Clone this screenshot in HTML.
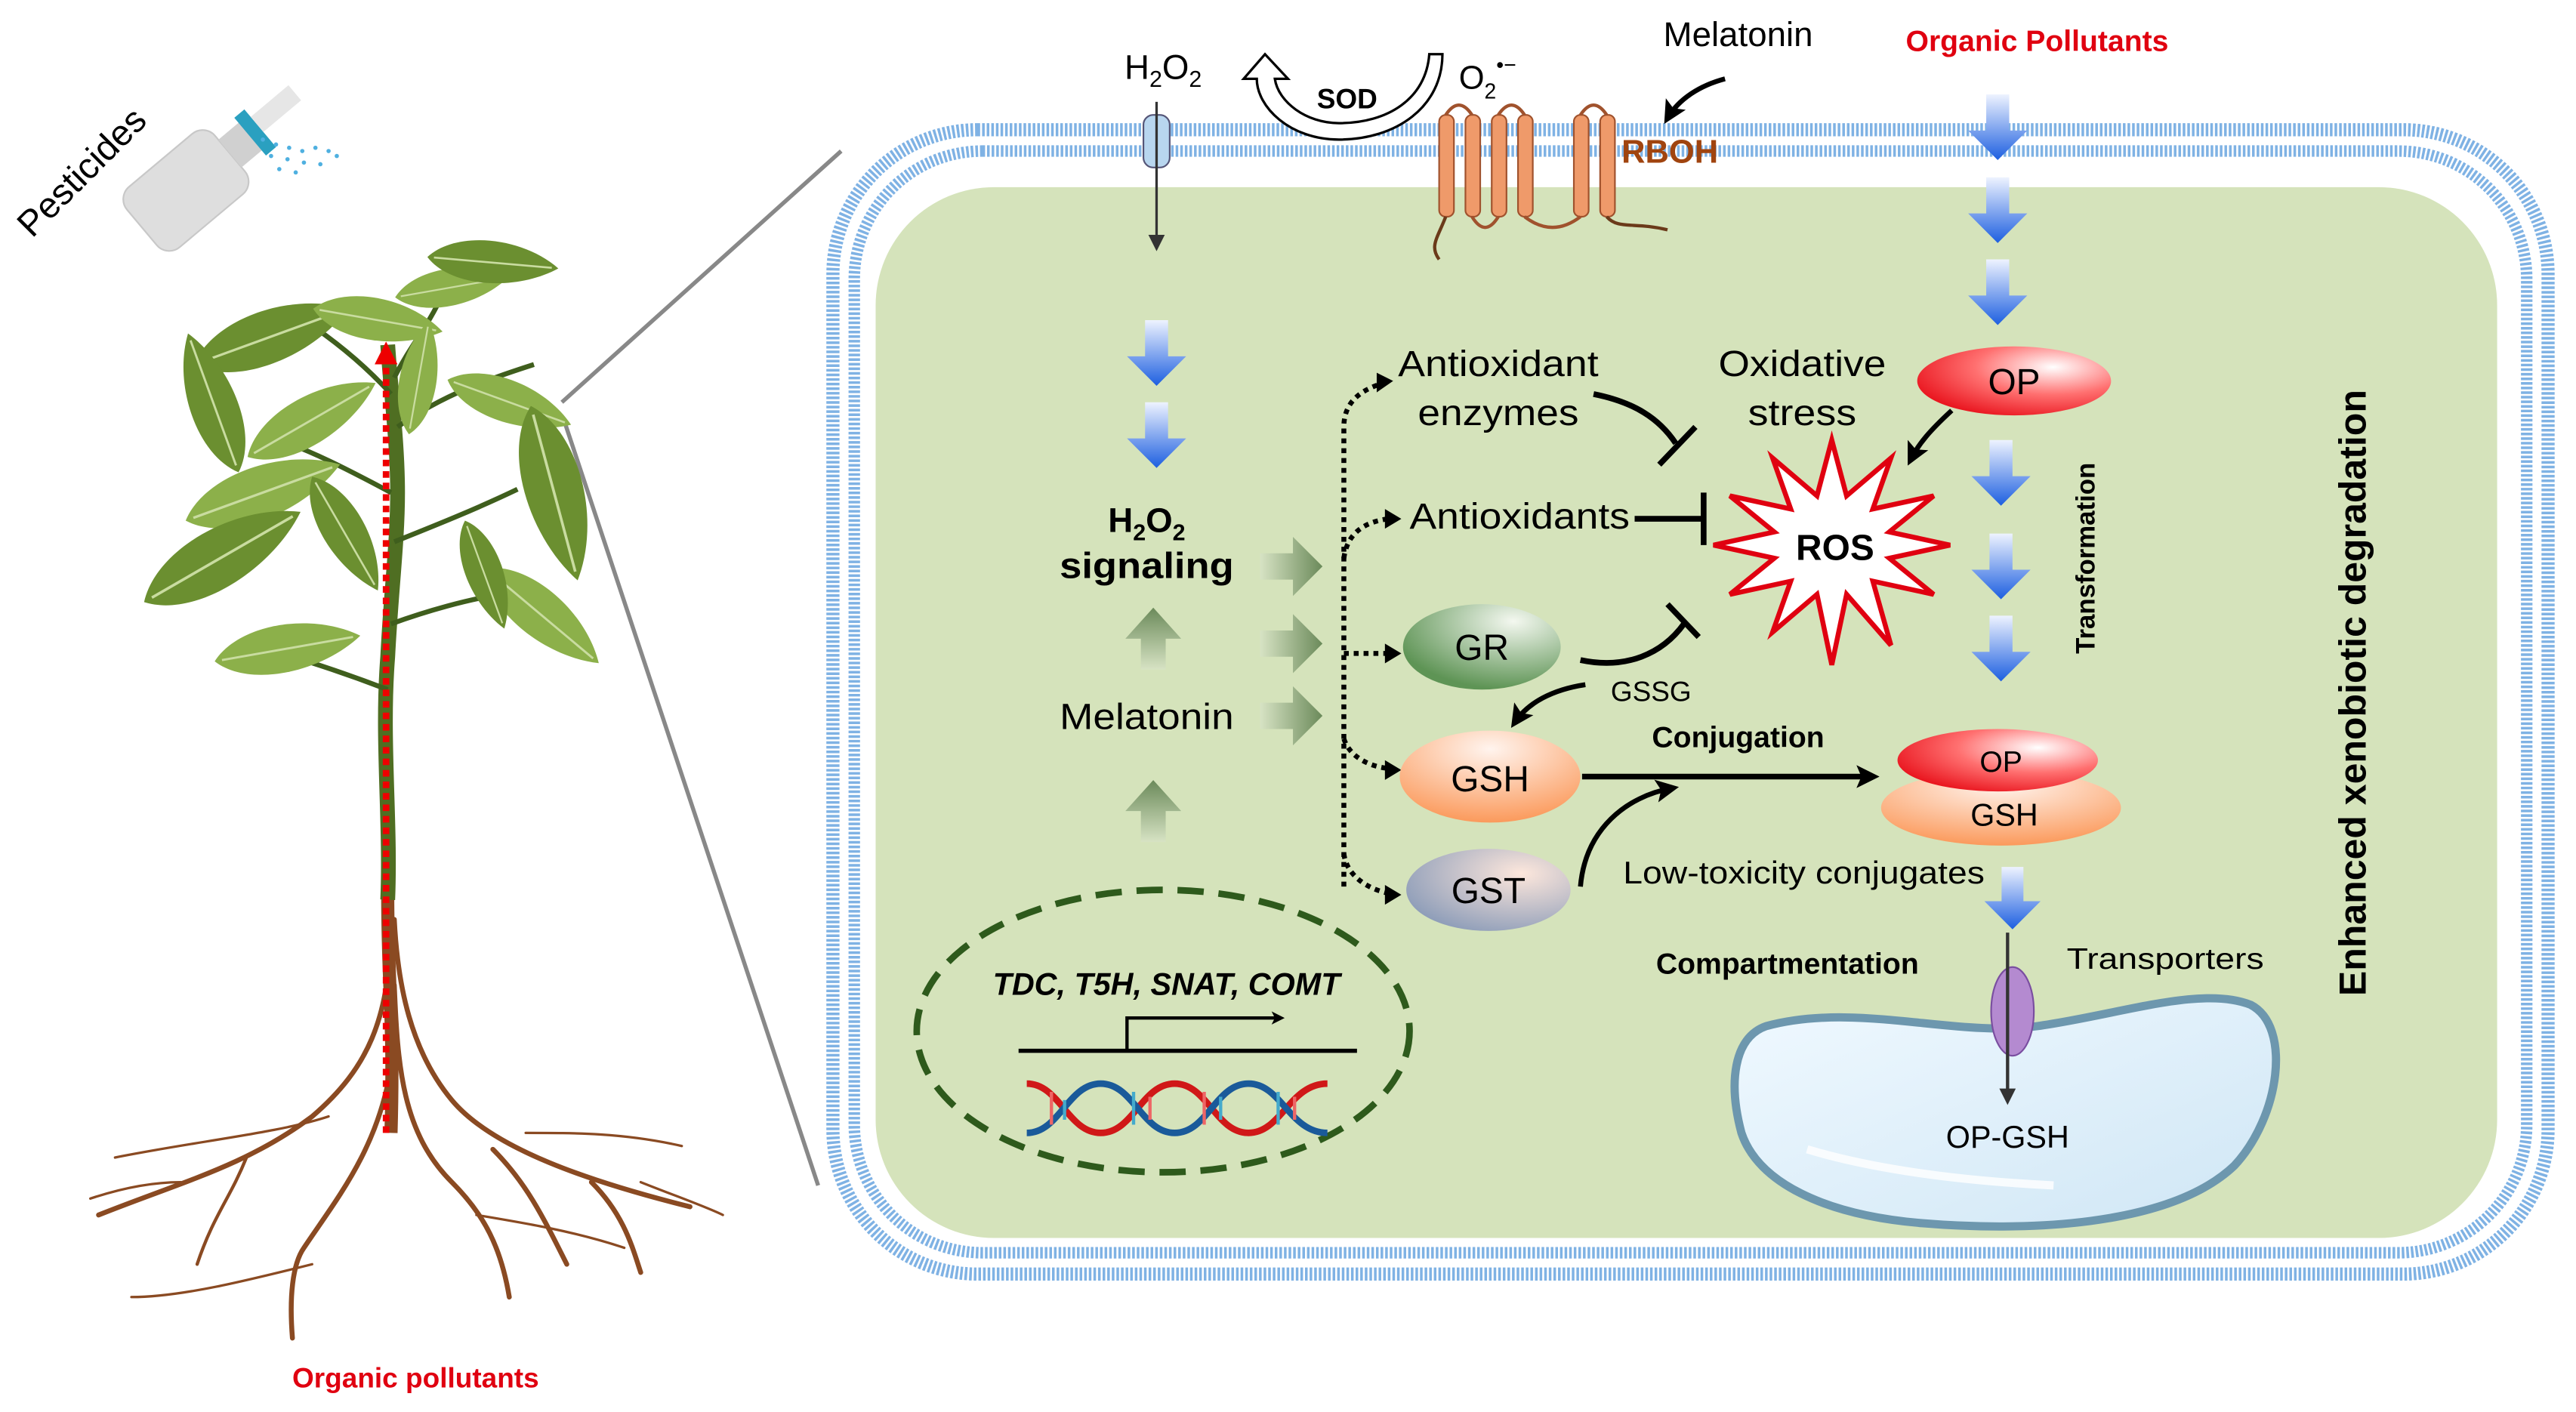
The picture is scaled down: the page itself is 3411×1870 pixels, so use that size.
<!DOCTYPE html>
<html><head><meta charset="utf-8"><style>
html,body{margin:0;padding:0;background:#fff;}
svg{display:block;}
text{font-family:"Liberation Sans",sans-serif;}
</style></head><body>
<svg width="3411" height="1870" viewBox="0 0 1568 860" preserveAspectRatio="none" xmlns="http://www.w3.org/2000/svg">
<defs>
<linearGradient id="bl" x1="0" y1="0" x2="0" y2="1"><stop offset="0" stop-color="#eef3ff"/><stop offset="1" stop-color="#1d5fe0"/></linearGradient>
<linearGradient id="gr" x1="0" y1="0" x2="1" y2="0"><stop offset="0" stop-color="#d7e3c4"/><stop offset="1" stop-color="#6b8a5a"/></linearGradient>
<linearGradient id="gu" x1="0" y1="1" x2="0" y2="0"><stop offset="0" stop-color="#d7e3c4"/><stop offset="1" stop-color="#6b8a5a"/></linearGradient>
<radialGradient id="rOP" cx="0.7" cy="0.3" r="0.8"><stop offset="0" stop-color="#fff"/><stop offset="0.5" stop-color="#ff7070"/><stop offset="1" stop-color="#e8101a"/></radialGradient>
<radialGradient id="rGSH" cx="0.5" cy="0.2" r="0.8"><stop offset="0" stop-color="#fff4ee"/><stop offset="1" stop-color="#fb9a5c"/></radialGradient>
<radialGradient id="rGR" cx="0.7" cy="0.2" r="0.8"><stop offset="0" stop-color="#f4f8f0"/><stop offset="1" stop-color="#5e9455"/></radialGradient>
<radialGradient id="rGST" cx="0.7" cy="0.3" r="0.8"><stop offset="0" stop-color="#fde7dc"/><stop offset="1" stop-color="#8c9cb8"/></radialGradient>
<linearGradient id="vac" x1="0" y1="0" x2="1" y2="1"><stop offset="0" stop-color="#f0f9ff"/><stop offset="1" stop-color="#cfe6f5"/></linearGradient>
<symbol id="ba" viewBox="0 0 36 40" overflow="visible"><path d="M11 0 H25 V22 H36 L18 40 L0 22 H11 Z" fill="url(#bl)"/></symbol>
<symbol id="ga" viewBox="0 0 38 36" overflow="visible"><path d="M0 10 H20 V0 L38 18 L20 36 V26 H0 Z" fill="url(#gr)"/></symbol>
<symbol id="gua" viewBox="0 0 36 40" overflow="visible"><path d="M10 40 V20 H0 L18 0 L36 20 H26 V40 Z" fill="url(#gu)"/></symbol>
<symbol id="leaf" viewBox="-50 -20 100 40" overflow="visible"><path d="M-50 0 C-30 -22 20 -22 50 0 C20 20 -30 22 -50 0 Z"/><path d="M-45 0 L45 0" stroke="#c9dca0" stroke-width="1.5" fill="none"/></symbol>
<marker id="ah" markerWidth="8" markerHeight="8" refX="6" refY="4" orient="auto" markerUnits="userSpaceOnUse" viewBox="0 0 8 8"><path d="M0 0 L8 4 L0 8 L2 4Z" fill="#000"/></marker>
<marker id="ah2" markerWidth="14" markerHeight="14" refX="10" refY="7" orient="auto" markerUnits="userSpaceOnUse" viewBox="0 0 14 14"><path d="M0 0 L14 7 L0 14 L3 7Z" fill="#000"/></marker>
<marker id="ahs" markerWidth="10" markerHeight="10" refX="7" refY="5" orient="auto" markerUnits="userSpaceOnUse" viewBox="0 0 10 10"><path d="M0 0 L10 5 L0 10 Z" fill="#333"/></marker>
<marker id="ahr" markerWidth="14" markerHeight="14" refX="7" refY="7" orient="auto" markerUnits="userSpaceOnUse" viewBox="0 0 14 14"><path d="M0 0 L14 7 L0 14 Z" fill="#e00"/></marker>
</defs>

<line x1="342" y1="245" x2="512" y2="92" stroke="#888" stroke-width="2.5"/>
<line x1="344" y1="258" x2="498" y2="722" stroke="#888" stroke-width="2.5"/>

<rect x="507" y="79" width="1044" height="697" rx="88" fill="#fff" stroke="#7fb2e4" stroke-width="8" stroke-dasharray="1.6 1.2"/>
<rect x="520" y="92" width="1018" height="671" rx="78" fill="none" stroke="#7fb2e4" stroke-width="7" stroke-dasharray="1.6 1.2"/>
<rect x="533" y="114" width="987" height="640" rx="72" fill="#d5e3bb"/>

<g>
<g stroke="#8a4a22" fill="none" stroke-width="3" stroke-linecap="round">
<path d="M240 560 C242 600 250 640 275 670 C300 700 360 720 420 735"/>
<path d="M238 570 C236 620 225 650 190 680 C150 710 110 720 60 740" />
<path d="M240 600 C242 650 245 690 275 720 C295 740 305 760 310 790"/>
<path d="M238 650 C230 700 205 730 185 760 C178 770 176 790 178 815"/>
<path d="M300 700 C320 720 330 740 345 770"/>
<path d="M360 720 C380 740 385 760 390 775"/>
<path d="M150 705 C140 730 130 740 120 770" stroke-width="2"/>
<path d="M200 680 C170 690 120 695 70 705" stroke-width="1.5"/>
<path d="M320 690 C350 690 380 690 415 698" stroke-width="1.5"/>
<path d="M190 770 C150 780 110 790 80 790" stroke-width="1.5"/>
<path d="M290 740 C320 745 350 750 380 760" stroke-width="1.5"/>
<path d="M110 720 C90 720 70 725 55 730" stroke-width="1.5"/>
<path d="M390 720 C410 728 430 735 440 740" stroke-width="1.5"/>
</g>
<path d="M236 545 C236 600 240 620 238 690" stroke="#8a4a22" stroke-width="8" fill="none"/>
<path d="M236 548 C238 500 232 450 236 400 C238 360 242 330 242 300 C242 270 238 240 236 210" stroke="#4f6e22" stroke-width="9" fill="none"/>
<g stroke="#3f5e1d" stroke-width="3" fill="none">
<path d="M236 420 C210 410 180 400 160 395"/><path d="M238 380 C260 372 285 365 305 362"/>
<path d="M240 330 C265 320 290 310 315 298"/>
<path d="M238 300 C210 285 190 275 170 268"/><path d="M242 260 C270 240 300 230 325 222"/>
<path d="M238 240 C220 220 200 205 185 195"/><path d="M240 230 C250 210 260 200 270 178"/>
</g>
<g fill="#7aa33a">
<use href="#leaf" x="0" y="0" width="100" height="40" transform="translate(165 205) rotate(-20) translate(-50 -20)" fill="#6b8f30"/>
<use href="#leaf" transform="translate(130 240) rotate(-110) translate(-50 -20) scale(0.9)" width="100" height="40" fill="#6b8f30"/>
<use href="#leaf" transform="translate(195 255) rotate(-30) translate(-50 -20) scale(0.9)" width="100" height="40" fill="#8cb04a"/>
<use href="#leaf" transform="translate(230 195) rotate(10) translate(-40 -16) scale(0.8)" width="100" height="40" fill="#8cb04a"/>
<use href="#leaf" transform="translate(275 175) rotate(-10) translate(-35 -14) scale(0.7)" width="100" height="40" fill="#8cb04a"/>
<use href="#leaf" transform="translate(300 160) rotate(5) translate(-40 -16) scale(0.8)" width="100" height="40" fill="#6b8f30"/>
<use href="#leaf" transform="translate(160 300) rotate(-20) translate(-50 -20)" width="100" height="40" fill="#8cb04a"/>
<use href="#leaf" transform="translate(130 340) rotate(-30) translate(-50 -20) scale(1.1)" width="100" height="40" fill="#6b8f30"/>
<use href="#leaf" transform="translate(210 325) rotate(60) translate(-40 -16) scale(0.8)" width="100" height="40" fill="#6b8f30"/>
<use href="#leaf" transform="translate(175 395) rotate(-10) translate(-45 -18) scale(0.9)" width="100" height="40" fill="#8cb04a"/>
<use href="#leaf" transform="translate(310 245) rotate(20) translate(-40 -16) scale(0.8)" width="100" height="40" fill="#8cb04a"/>
<use href="#leaf" transform="translate(338 295) rotate(75) translate(-50 -20) scale(1.1)" width="100" height="40" fill="#6b8f30"/>
<use href="#leaf" transform="translate(330 375) rotate(40) translate(-45 -18) scale(0.9)" width="100" height="40" fill="#8cb04a"/>
<use href="#leaf" transform="translate(295 350) rotate(70) translate(-35 -14) scale(0.7)" width="100" height="40" fill="#6b8f30"/>
<use href="#leaf" transform="translate(255 230) rotate(-80) translate(-35 -14) scale(0.7)" width="100" height="40" fill="#8cb04a"/>
</g>
<line x1="235" y1="690" x2="235" y2="215" stroke="#e00" stroke-width="4" stroke-dasharray="4 3" marker-end="url(#ahr)"/>
<g transform="rotate(-40 110 120)">
<rect x="80" y="95" width="70" height="48" rx="10" fill="#dedede" stroke="#c8c8c8"/>
<rect x="150" y="108" width="18" height="22" fill="#d0d0d0"/>
<rect x="166" y="104" width="8" height="30" fill="#2aa0c0"/>
<rect x="174" y="110" width="30" height="12" fill="#e6e6e6"/>
</g>
<g fill="#4fb0e0"><circle cx="160" cy="85" r="1.3"/><circle cx="168" cy="88" r="1.3"/><circle cx="176" cy="90" r="1.3"/><circle cx="184" cy="92" r="1.3"/><circle cx="192" cy="90" r="1.3"/><circle cx="200" cy="92" r="1.3"/><circle cx="165" cy="95" r="1.3"/><circle cx="175" cy="97" r="1.3"/><circle cx="185" cy="99" r="1.3"/><circle cx="195" cy="100" r="1.3"/><circle cx="170" cy="103" r="1.3"/><circle cx="180" cy="105" r="1.3"/><circle cx="205" cy="95" r="1.3"/></g>
<text x="55" y="110" font-size="22" transform="rotate(-45 55 110)" text-anchor="middle">Pesticides</text>
<text x="253" y="845" font-size="17" font-weight="bold" fill="#e00010" text-anchor="middle">Organic pollutants</text>
</g>

<text x="708" y="48" font-size="21" text-anchor="middle">H<tspan font-size="14" dy="5">2</tspan><tspan dy="-5">O</tspan><tspan font-size="14" dy="5">2</tspan></text>
<rect x="696" y="70" width="16" height="32" rx="6" fill="#b8d6ef" stroke="#557" stroke-width="1"/>
<line x1="704" y1="62" x2="704" y2="150" stroke="#333" stroke-width="1.5" marker-end="url(#ahs)"/>
<path d="M878 33 C878 65 850 85 815 85 C785 85 765 65 765 48 L757 48 L770 33 L784 48 L776 48 C778 62 795 75 815 75 C845 75 868 60 870 33 Z" fill="#fff" stroke="#000" stroke-width="1.5"/>
<text x="820" y="66" font-size="17" font-weight="bold" text-anchor="middle">SOD</text>
<text x="888" y="54" font-size="20">O<tspan font-size="13" dy="6">2</tspan><tspan font-size="13" dy="-16">•−</tspan></text>
<g fill="#ef9a6a" stroke="#a0522d" stroke-width="1">
<rect x="876" y="70" width="9" height="62" rx="4"/><rect x="892" y="70" width="9" height="62" rx="4"/><rect x="908" y="70" width="9" height="62" rx="4"/><rect x="924" y="70" width="9" height="62" rx="4"/><rect x="958" y="70" width="9" height="62" rx="4"/><rect x="974" y="70" width="9" height="62" rx="4"/>
</g>
<path d="M880 70 Q888 58 896 70 M912 70 Q920 58 928 70 M962 70 Q970 58 978 70 M896 132 Q904 145 912 132 M928 132 Q945 145 962 132" stroke="#a0522d" stroke-width="2" fill="none"/>
<path d="M880 132 C875 145 870 150 876 158 M978 132 C985 140 995 135 1015 140" stroke="#6b3a1a" stroke-width="2" fill="none"/>
<text x="987" y="99" font-size="20" font-weight="bold" fill="#a0440f">RBOH</text>
<text x="1058" y="28" font-size="21" text-anchor="middle">Melatonin</text>
<path d="M1050 48 C1035 52 1022 60 1015 72" stroke="#000" stroke-width="3" fill="none" marker-end="url(#ah2)"/>
<text x="1240" y="31" font-size="18" font-weight="bold" fill="#e00010" text-anchor="middle">Organic Pollutants</text>

<use href="#ba" x="1198" y="55" width="36" height="45"/>
<use href="#ba" x="1198" y="108" width="36" height="40"/>
<use href="#ba" x="1198" y="158" width="36" height="40"/>
<use href="#ba" x="1200" y="262" width="36" height="52"/>
<use href="#ba" x="1200" y="325" width="36" height="40"/>
<use href="#ba" x="1200" y="375" width="36" height="40"/>
<use href="#ba" x="1207" y="528" width="36" height="38"/>
<use href="#ba" x="686" y="195" width="36" height="40"/>
<use href="#ba" x="686" y="245" width="36" height="40"/>

<ellipse cx="1226" cy="232" rx="59" ry="21" fill="url(#rOP)"/>
<text x="1226" y="240" font-size="22" text-anchor="middle">OP</text>
<path d="M1188 250 C1175 262 1168 270 1163 280" stroke="#000" stroke-width="3" fill="none" marker-end="url(#ah2)"/>

<text x="912" y="229" font-size="22" text-anchor="middle" textLength="122" lengthAdjust="spacingAndGlyphs">Antioxidant</text>
<text x="912" y="259" font-size="22" text-anchor="middle" textLength="98" lengthAdjust="spacingAndGlyphs">enzymes</text>
<text x="1097" y="229" font-size="22" text-anchor="middle" textLength="102" lengthAdjust="spacingAndGlyphs">Oxidative</text>
<text x="1097" y="259" font-size="22" text-anchor="middle" textLength="66" lengthAdjust="spacingAndGlyphs">stress</text>
<path d="M970 240 C995 245 1010 255 1020 270" stroke="#000" stroke-width="3.5" fill="none"/>
<line x1="1010" y1="283" x2="1032" y2="260" stroke="#000" stroke-width="3.5"/>
<text x="925" y="322" font-size="22" text-anchor="middle" textLength="134" lengthAdjust="spacingAndGlyphs">Antioxidants</text>
<line x1="995" y1="316" x2="1037" y2="316" stroke="#000" stroke-width="3.5"/>
<line x1="1037" y1="300" x2="1037" y2="332" stroke="#000" stroke-width="3.5"/>

<polygon points="1187,332 1150,340 1177,362 1140,354 1151,393 1124,362 1115,405 1106,362 1079,385 1090,354 1053,362 1080,340 1043,332 1080,324 1053,302 1090,310 1079,279 1106,302 1115,268 1124,302 1151,279 1140,310 1177,302 1150,324" fill="#fff" stroke="#e00010" stroke-width="3" stroke-linejoin="miter"/>
<text x="1117" y="341" font-size="22" font-weight="bold" text-anchor="middle">ROS</text>

<text x="1275" y="340" font-size="16" font-weight="bold" text-anchor="middle" transform="rotate(-90 1275 340)">Transformation</text>
<text x="1440" y="422" font-size="23" font-weight="bold" text-anchor="middle" transform="rotate(-90 1440 422)">Enhanced xenobiotic degradation</text>

<text x="698" y="324" font-size="21" font-weight="bold" text-anchor="middle">H<tspan font-size="14" dy="5">2</tspan><tspan dy="-5">O</tspan><tspan font-size="14" dy="5">2</tspan></text>
<text x="698" y="352" font-size="22" font-weight="bold" text-anchor="middle" textLength="106" lengthAdjust="spacingAndGlyphs">signaling</text>
<use href="#ga" x="766" y="327" width="40" height="36"/>
<use href="#ga" x="766" y="374" width="40" height="36"/>
<use href="#ga" x="766" y="418" width="40" height="36"/>
<use href="#gua" x="685" y="368" width="34" height="42"/>
<use href="#gua" x="685" y="473" width="34" height="42"/>
<text x="698" y="444" font-size="22" text-anchor="middle" textLength="106" lengthAdjust="spacingAndGlyphs">Melatonin</text>

<g stroke="#000" stroke-width="3" fill="none" stroke-dasharray="3 3">
<path d="M818 540 L818 260 C818 245 828 238 840 234"/>
<path d="M818 340 C820 325 830 318 845 316"/>
<path d="M818 398 L845 398"/>
<path d="M818 450 C822 462 835 467 845 468"/>
<path d="M818 520 C820 535 835 542 845 544"/>
</g>
<g fill="#000">
<path d="M848 232 L838 227 L838 239 Z"/><path d="M853 316 L843 310 L843 322 Z"/><path d="M853 398 L843 392 L843 404 Z"/><path d="M853 469 L843 463 L843 475 Z"/><path d="M853 545 L843 539 L843 551 Z"/>
</g>

<ellipse cx="902" cy="394" rx="48" ry="26" fill="url(#rGR)"/>
<text x="902" y="402" font-size="22" text-anchor="middle">GR</text>
<path d="M962 402 C990 408 1012 398 1025 380" stroke="#000" stroke-width="3.5" fill="none"/>
<line x1="1015" y1="368" x2="1034" y2="388" stroke="#000" stroke-width="3.5"/>
<text x="1005" y="427" font-size="17" text-anchor="middle">GSSG</text>
<path d="M965 417 C945 420 930 428 922 440" stroke="#000" stroke-width="3" fill="none" marker-end="url(#ah2)"/>
<ellipse cx="907" cy="473" rx="55" ry="28" fill="url(#rGSH)"/>
<text x="907" y="482" font-size="22" text-anchor="middle">GSH</text>
<ellipse cx="906" cy="542" rx="50" ry="25" fill="url(#rGST)"/>
<text x="906" y="550" font-size="22" text-anchor="middle">GST</text>
<text x="1058" y="455" font-size="18" font-weight="bold" text-anchor="middle">Conjugation</text>
<line x1="963" y1="473" x2="1140" y2="473" stroke="#000" stroke-width="3.5" marker-end="url(#ah2)"/>
<path d="M962 540 C965 505 990 485 1018 480" stroke="#000" stroke-width="3" fill="none" marker-end="url(#ah2)"/>

<ellipse cx="1218" cy="492" rx="73" ry="23" fill="url(#rGSH)"/>
<ellipse cx="1216" cy="463" rx="61" ry="19" fill="url(#rOP)"/>
<text x="1218" y="470" font-size="18" text-anchor="middle">OP</text>
<text x="1220" y="503" font-size="19" text-anchor="middle">GSH</text>
<text x="1098" y="538" font-size="19" text-anchor="middle" textLength="220" lengthAdjust="spacingAndGlyphs">Low-toxicity conjugates</text>
<text x="1088" y="593" font-size="18" font-weight="bold" text-anchor="middle">Compartmentation</text>
<text x="1318" y="590" font-size="18" text-anchor="middle" textLength="120" lengthAdjust="spacingAndGlyphs">Transporters</text>

<path d="M1075 625 C1130 610 1190 632 1240 625 C1290 618 1340 600 1370 612 C1395 625 1388 680 1360 710 C1320 748 1230 750 1170 745 C1110 740 1070 720 1060 690 C1052 660 1055 632 1075 625 Z" fill="url(#vac)" stroke="#6d97ae" stroke-width="5"/>
<path d="M1100 700 C1150 715 1210 720 1250 722" stroke="#fff" stroke-width="5" fill="none" opacity="0.8"/>
<ellipse cx="1225" cy="616" rx="13" ry="27" fill="#b48ad0" stroke="#7a4ea0"/>
<line x1="1222" y1="568" x2="1222" y2="670" stroke="#333" stroke-width="2" marker-end="url(#ahs)"/>
<text x="1222" y="699" font-size="19" text-anchor="middle">OP-GSH</text>

<ellipse cx="708" cy="628" rx="150" ry="86" fill="none" stroke="#2e5a1c" stroke-width="4" stroke-dasharray="16 9"/>
<text x="710" y="606" font-size="19" font-weight="bold" font-style="italic" text-anchor="middle">TDC, T5H, SNAT, COMT</text>
<line x1="620" y1="640" x2="826" y2="640" stroke="#000" stroke-width="2.5"/>
<path d="M686 640 V620 H780" stroke="#000" stroke-width="2" fill="none" marker-end="url(#ah)"/>
<path d="M625 660 C645 660 650 690 670 690 C690 690 695 660 715 660 C735 660 740 690 760 690 C780 690 785 660 808 660" stroke="#d01818" stroke-width="4" fill="none"/>
<path d="M625 690 C645 690 650 660 670 660 C690 660 695 690 715 690 C735 690 740 660 760 660 C780 660 785 690 808 690" stroke="#1a5a9a" stroke-width="4" fill="none"/>
<g stroke-width="2"><line x1="640" y1="665" x2="640" y2="685" stroke="#e66"/><line x1="648" y1="670" x2="648" y2="682" stroke="#4ac"/><line x1="690" y1="665" x2="690" y2="685" stroke="#4ac"/><line x1="700" y1="668" x2="700" y2="682" stroke="#e66"/><line x1="733" y1="665" x2="733" y2="685" stroke="#e66"/><line x1="743" y1="668" x2="743" y2="682" stroke="#4ac"/><line x1="778" y1="665" x2="778" y2="685" stroke="#4ac"/><line x1="788" y1="668" x2="788" y2="682" stroke="#e66"/></g>
</svg>
</body></html>
